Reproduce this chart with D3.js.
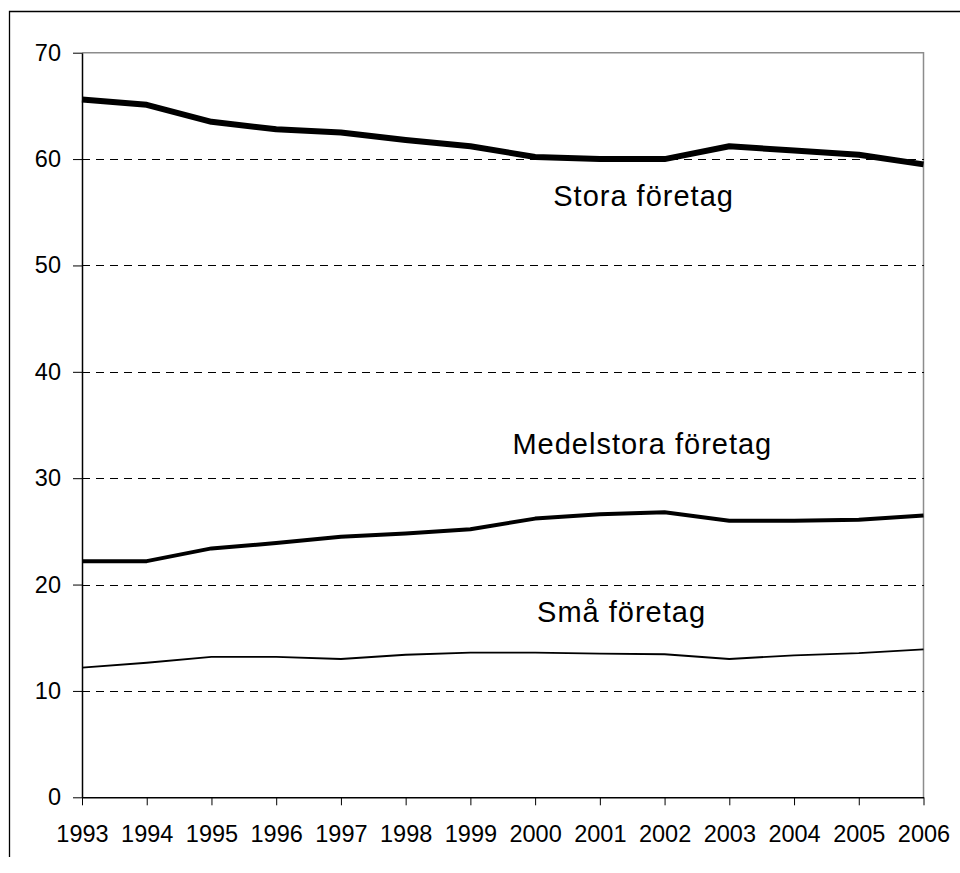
<!DOCTYPE html>
<html>
<head>
<meta charset="utf-8">
<script src="https://cdn.jsdelivr.net/npm/d3@7"></script>
<style>
  html, body { margin: 0; padding: 0; background: #fff; }
  svg text { font-family: "Liberation Sans", Arial, sans-serif; fill: #000; }
</style>
</head>
<body>
<div class="container"></div>
<script>
// data
const years = [1993, 1994, 1995, 1996, 1997, 1998, 1999, 2000, 2001, 2002, 2003, 2004, 2005, 2006];
const stora = [65.6, 65.1, 63.5, 62.8, 62.5, 61.8, 61.2, 60.2, 60.0, 60.0, 61.2, 60.8, 60.4, 59.5];
const medelstora = [22.2, 22.2, 23.4, 23.9, 24.5, 24.8, 25.2, 26.2, 26.6, 26.8, 26.0, 26.0, 26.1, 26.5];
const sma = [12.2, 12.65, 13.2, 13.2, 13.0, 13.4, 13.6, 13.6, 13.5, 13.45, 13.0, 13.35, 13.55, 13.9];
const yTicks = [0, 10, 20, 30, 40, 50, 60, 70];
const seriesNames = ["Stora företag", "Medelstora företag", "Små företag"];

const WIDTH = 960;
const HEIGHT = 873;
const MARGIN = { top: 52.7, right: 36.5, bottom: 75.7, left: 82 };

const series = [
  { name: seriesNames[0], values: stora, width: 6, label: [2000.28, 55.6] },
  { name: seriesNames[1], values: medelstora, width: 4, label: [1999.65, 32.3] },
  { name: seriesNames[2], values: sma, width: 1.8, label: [2000.03, 16.5] },
];

const x = d3
  .scaleLinear()
  .domain([years[0], years[years.length - 1]])
  .range([MARGIN.left, WIDTH - MARGIN.right]);
const y = d3
  .scaleLinear()
  .domain([0, 70])
  .range([HEIGHT - MARGIN.bottom, MARGIN.top]);

const svg = d3
  .select(".container")
  .append("svg")
  .attr("viewBox", [0, 0, WIDTH, HEIGHT])
  .attr("width", WIDTH)
  .attr("height", HEIGHT);

svg.append("rect").attr("width", WIDTH).attr("height", HEIGHT).attr("fill", "#fff");

// outer chart border (cut at the right and bottom)
svg
  .append("path")
  .attr("d", `M9.5,857 V11.5 H960`)
  .attr("fill", "none")
  .attr("stroke", "#000")
  .attr("stroke-width", 1.3);

// plot area frame, top and right in grey
svg
  .append("path")
  .attr("d", `M${x.range()[0]},${y(70)} H${x.range()[1]} V${y(0)}`)
  .attr("fill", "none")
  .attr("stroke", "#8c8c8c")
  .attr("stroke-width", 1.5);

// dashed gridlines, snapped to the pixel grid so they stay crisp
const snap = (v) => Math.round(v) + 0.5;
svg
  .append("g")
  .attr("shape-rendering", "crispEdges")
  .selectAll("line")
  .data(yTicks.filter((t) => t > 0 && t < 70))
  .join("line")
  .attr("x1", x.range()[0])
  .attr("x2", x.range()[1])
  .attr("y1", (d) => snap(y(d)))
  .attr("y2", (d) => snap(y(d)))
  .attr("stroke", "#000")
  .attr("stroke-width", 1)
  .attr("stroke-dasharray", "8,6");

// axes
const yAxis = (g) =>
  g
    .attr("transform", `translate(${MARGIN.left},0)`)
    .call(d3.axisLeft(y).tickValues(yTicks).tickSize(9).tickPadding(12).tickSizeOuter(0))
    .call((g) => g.select(".domain").attr("stroke-width", 1.5))
    .call((g) => g.selectAll("text").attr("font-size", 23.5));

const xAxis = (g) =>
  g
    .attr("transform", `translate(0,${y(0)})`)
    .call(
      d3.axisBottom(x).tickValues(years).tickFormat(d3.format("d")).tickSize(8).tickPadding(20).tickSizeOuter(0)
    )
    .call((g) => g.select(".domain").attr("stroke-width", 1.5))
    .call((g) => g.selectAll("text").attr("font-size", 23.5));

svg.append("g").call(yAxis).attr("font-family", null);
svg.append("g").call(xAxis).attr("font-family", null);

// lines
const line = (values) =>
  d3
    .line()
    .x((d, i) => x(years[i]))
    .y((d) => y(d))(values);

svg
  .append("g")
  .attr("fill", "none")
  .attr("stroke", "#000")
  .attr("stroke-linejoin", "round")
  .selectAll("path")
  .data(series)
  .join("path")
  .attr("stroke-width", (d) => d.width)
  .attr("d", (d) => line(d.values));

// series labels
svg
  .append("g")
  .selectAll("text")
  .data(series)
  .join("text")
  .attr("x", (d) => x(d.label[0]))
  .attr("y", (d) => y(d.label[1]))
  .attr("font-size", 29)
  .attr("letter-spacing", 1)
  .text((d) => d.name);
</script>
</body>
</html>
